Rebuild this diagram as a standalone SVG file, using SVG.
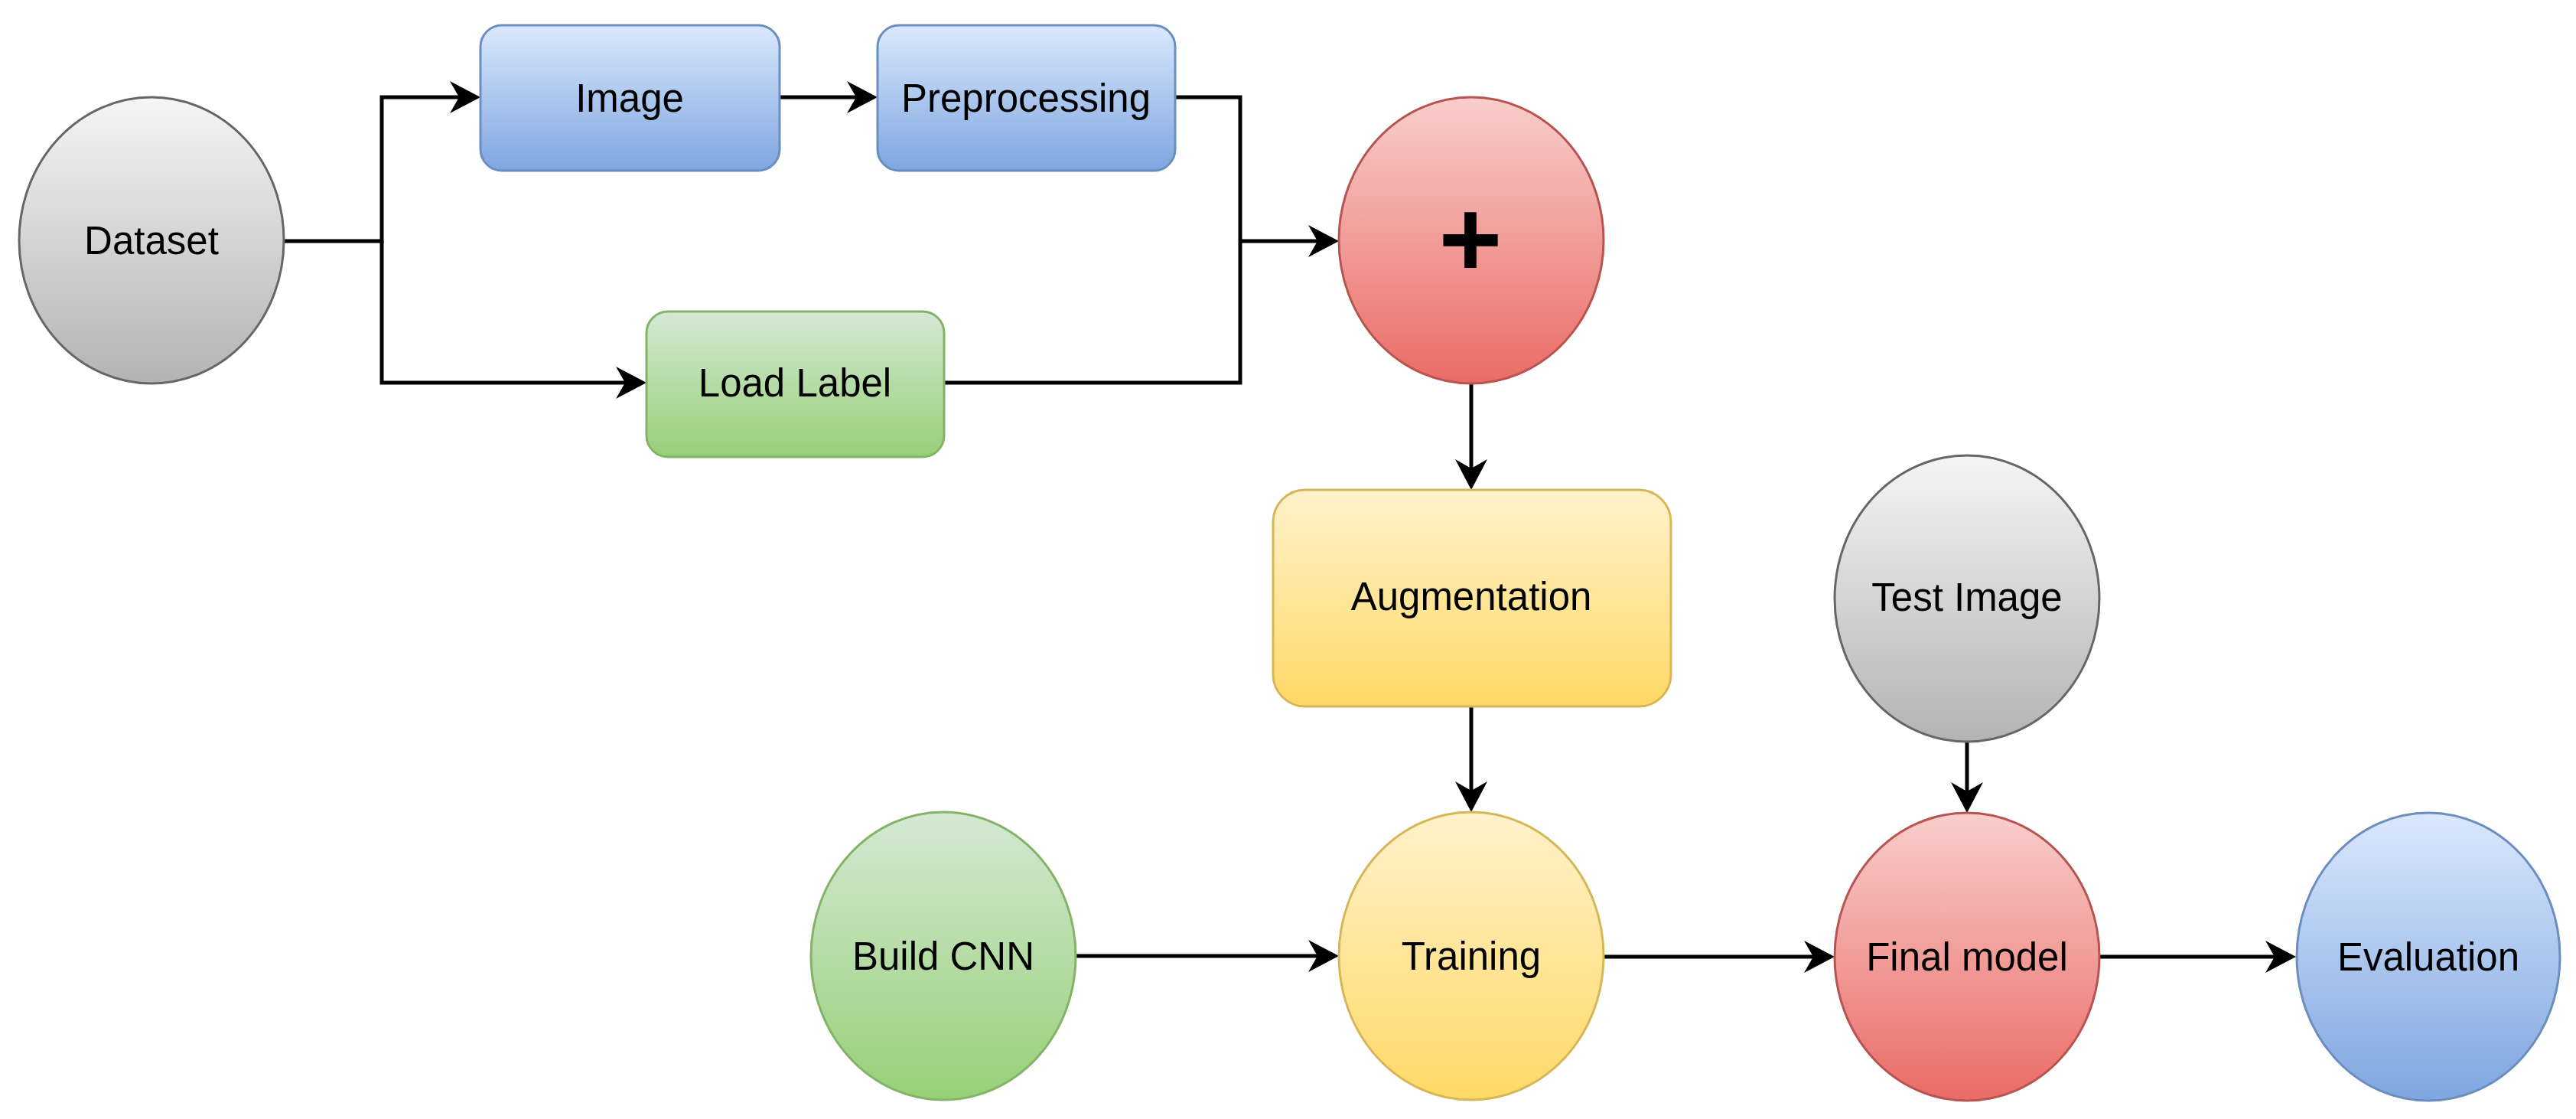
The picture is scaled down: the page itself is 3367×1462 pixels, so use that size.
<svg xmlns="http://www.w3.org/2000/svg" width="3367" height="1462" viewBox="0 0 3367 1462">
<defs>
<linearGradient id="gGray" x1="0" y1="0" x2="0" y2="1"><stop offset="0" stop-color="#f5f5f5"/><stop offset="1" stop-color="#b3b3b3"/></linearGradient>
<linearGradient id="gBlue" x1="0" y1="0" x2="0" y2="1"><stop offset="0" stop-color="#dae8fc"/><stop offset="1" stop-color="#7ea6e0"/></linearGradient>
<linearGradient id="gGreen" x1="0" y1="0" x2="0" y2="1"><stop offset="0" stop-color="#d5e8d4"/><stop offset="1" stop-color="#97d077"/></linearGradient>
<linearGradient id="gRed" x1="0" y1="0" x2="0" y2="1"><stop offset="0" stop-color="#f8cecc"/><stop offset="1" stop-color="#ea6b66"/></linearGradient>
<linearGradient id="gYellow" x1="0" y1="0" x2="0" y2="1"><stop offset="0" stop-color="#fff2cc"/><stop offset="1" stop-color="#ffd966"/></linearGradient>
<marker id="arrow" markerUnits="userSpaceOnUse" markerWidth="42" markerHeight="42" viewBox="0 0 42 42" refX="35" refY="21" orient="auto">
<path d="M0,0 L40,21 L0,42 L12,21 Z" fill="#000"/>
</marker>
</defs>
<style>
.gray{fill:url(#gGray);stroke:#666666;stroke-width:3}
.blue{fill:url(#gBlue);stroke:#6c8ebf;stroke-width:3}
.green{fill:url(#gGreen);stroke:#82b366;stroke-width:3}
.red{fill:url(#gRed);stroke:#b85450;stroke-width:3}
.yellow{fill:url(#gYellow);stroke:#d6b656;stroke-width:3}
.lbl{font-family:"Liberation Sans",Arial,sans-serif;font-size:51px;fill:#000;text-anchor:middle}
.plus{font-family:"Liberation Sans",Arial,sans-serif;font-size:142px;font-weight:bold;fill:#000;text-anchor:middle}
.edge{fill:none;stroke:#000;stroke-width:5}
</style>
<rect width="3367" height="1462" fill="#fff"/>
<g id="connectors">
<path class="edge" d="M372,315 H499 V127 H623" marker-end="url(#arrow)"/>
<path class="edge" d="M499,315 V500 H840" marker-end="url(#arrow)"/>
<path class="edge" d="M1019,127 H1142" marker-end="url(#arrow)"/>
<path class="edge" d="M1536,127 H1621 V500 H1234"/>
<path class="edge" d="M1621,315 H1745" marker-end="url(#arrow)"/>
<path class="edge" d="M1923,501 V635" marker-end="url(#arrow)"/>
<path class="edge" d="M1923,923 V1056" marker-end="url(#arrow)"/>
<path class="edge" d="M1406,1249 H1745" marker-end="url(#arrow)"/>
<path class="edge" d="M2096,1250 H2393" marker-end="url(#arrow)"/>
<path class="edge" d="M2744,1250 H2996" marker-end="url(#arrow)"/>
<path class="edge" d="M2571,969 V1057" marker-end="url(#arrow)"/>
</g>
<g id="dataset"><ellipse class="gray" cx="198" cy="314" rx="173" ry="187"/><text class="lbl" x="198" y="332">Dataset</text></g>
<g id="image"><rect class="blue" x="628" y="33" width="391" height="190" rx="28"/><text class="lbl" x="823" y="146">Image</text></g>
<g id="preprocessing"><rect class="blue" x="1147" y="33" width="389" height="190" rx="28"/><text class="lbl" x="1341" y="146">Preprocessing</text></g>
<g id="load-label"><rect class="green" x="845" y="407" width="389" height="190" rx="28"/><text class="lbl" x="1039" y="518">Load Label</text></g>
<g id="merge"><ellipse class="red" cx="1923" cy="314" rx="173" ry="187"/><text class="plus" x="1922" y="361">+</text></g>
<g id="augmentation"><rect class="yellow" x="1664" y="640" width="520" height="283" rx="42"/><text class="lbl" x="1923" y="797">Augmentation</text></g>
<g id="test-image"><ellipse class="gray" cx="2571" cy="782" rx="173" ry="187"/><text class="lbl" x="2571" y="798">Test Image</text></g>
<g id="build-cnn"><ellipse class="green" cx="1233" cy="1249" rx="173" ry="188"/><text class="lbl" x="1233" y="1267">Build CNN</text></g>
<g id="training"><ellipse class="yellow" cx="1923" cy="1249" rx="173" ry="188"/><text class="lbl" x="1923" y="1267">Training</text></g>
<g id="final-model"><ellipse class="red" cx="2571" cy="1250" rx="173" ry="188"/><text class="lbl" x="2571" y="1268">Final model</text></g>
<g id="evaluation"><ellipse class="blue" cx="3174" cy="1250" rx="172" ry="188"/><text class="lbl" x="3174" y="1268">Evaluation</text></g>
</svg>
